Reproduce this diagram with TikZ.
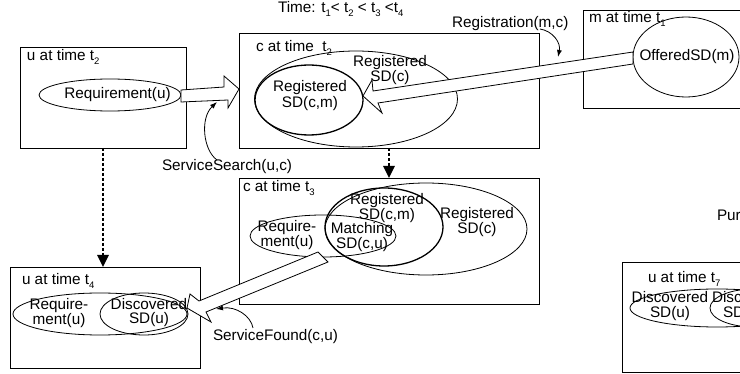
\documentclass[tikz,border=0pt]{standalone}
\usepackage{fontspec}
\setmainfont{Liberation Sans}
\usetikzlibrary{shapes.geometric,arrows.meta}
\newcommand{\tsub}[1]{\raisebox{-0.45ex}{\fontsize{9.5}{9.5}\selectfont #1}}
\begin{document}
\begin{tikzpicture}[x=1pt,y=-1pt,
  every node/.style={font=\fontsize{15.3}{16}\selectfont, inner sep=0pt, outer sep=0pt},
  frame/.style={draw, line width=0.8pt, rectangle},
  ell/.style={draw, line width=0.8pt, ellipse},
  thickell/.style={draw, line width=1.3pt, ellipse},
  lbl/.style={anchor=base west},
  twoline/.style={align=center, font=\fontsize{15.3}{#1}\selectfont},
  blockarrow/.style={draw, fill=white, line width=0.8pt, line join=miter},
  thinarrow/.style={line width=0.8pt, -{Latex[length=7pt,width=5pt]}},
  dotarrow/.style={line width=2.6pt, dash pattern=on 3pt off 2pt, -{Triangle[length=12pt,width=11pt]}},
]
\useasboundingbox (0,0) rectangle (740,374);
\clip (0,0) rectangle (740,374);

% time label
\node[lbl] (time) at (278,13) {Time: t\tsub{1}< t\tsub{2} < t\tsub{3} <t\tsub{4}};

% ---------- u at time t2
\node[frame, minimum width=166pt, minimum height=101pt] (u2) at (103,97.5) {};
\node[lbl] (u2t) at (27,61) {u at time t\tsub{2}};
\node[ell, minimum width=142pt, minimum height=32pt] (req2) at (110,95) {};
\node (req2txt) at (117.5,95) {Requirement(u)};

% ---------- c at time t2
\node[frame, minimum width=300pt, minimum height=115pt] (c2) at (389,90.5) {};
\node[lbl] (c2t) at (256,52) {c at time \ t\tsub{2}};
\node[ell, minimum width=203pt, minimum height=96pt] (c2all) at (356,99) {};
\node[thickell, minimum width=108pt, minimum height=70pt] (c2cm) at (309,100) {};
\node[twoline=16] (c2cmtxt) at (310,96) {Registered\\SD(c,m)};
\node[twoline=14] (c2alltxt) at (390,70) {Registered\\SD(c)};

% ---------- m at time t1
\node[frame, minimum width=197pt, minimum height=98pt] (m1) at (681.5,59) {};
\node[lbl] (m1t) at (589,23) {m at time t\tsub{1}};
\node[ell, minimum width=106pt, minimum height=80pt] (off) at (686,57) {};
\node (offtxt) at (687,57) {OfferedSD(m)};

% ---------- c at time t3
\node[frame, minimum width=300pt, minimum height=126pt] (c3) at (389,241) {};
\node[lbl] (c3t) at (243,192) {c at time t\tsub{3}};
\node[ell, minimum width=202pt, minimum height=92pt] (c3all) at (426,229) {};
\node[thickell, minimum width=118pt, minimum height=78pt] (c3cm) at (384,227) {};
\node[ell, minimum width=146pt, minimum height=42pt] (c3req) at (323,236) {};
\node[twoline=12.5] (c3cmtxt) at (387,208) {Registered\\SD(c,m)};
\node[twoline=13] (c3alltxt) at (477,222) {Registered\\SD(c)};
\node[twoline=13.5] (c3reqtxt) at (287,235) {Require-\\ment(u)};
\node[twoline=12.5] (c3mtxt) at (362,237) {Matching\\SD(c,u)};

% ---------- u at time t4
\node[frame, minimum width=190pt, minimum height=101pt] (u4) at (105,317.5) {};
\node[lbl] (u4t) at (22,285) {u at time t\tsub{4}};
\node[ell, minimum width=174pt, minimum height=42pt] (u4req) at (100,314) {};
\node[ell, minimum width=88pt, minimum height=42pt] (u4disc) at (144,314) {};
\node[twoline=14] (u4reqtxt) at (59,313) {Require-\\ment(u)};
\node[twoline=14] (u4disctxt) at (149,313) {Discovered\\SD(u)};

% ---------- u at time t7 (cut at the right edge)
\node[frame, minimum width=178pt, minimum height=110pt] (u7) at (711,317) {};
\node[lbl] (u7t) at (648,283) {u at time t\tsub{7}};
\node[ell, minimum width=174pt, minimum height=38pt] (u7a) at (717,308) {};
\node[ell, minimum width=88pt, minimum height=38pt] (u7b) at (754,308) {};
\node[twoline=15] (u7atxt) at (670,306) {Discovered\\SD(u)};
\node[lbl] (u7btxt) at (712,303) {Disc};
\node[lbl] (u7btxt2) at (723,318) {SD};
\node[lbl] (pur) at (717,221) {Pur};

% ---------- dotted arrows
\draw[dotarrow] (u2.south) -- (u2.south |- u4.north);
\draw[dotarrow] (c2.south) -- (c3.north);

% ---------- block arrows
\draw[blockarrow] (181,90) -- (224,87) -- (224,76) -- (239,89) -- (228,108) -- (228,100) -- (181,102) -- cycle;
\draw[blockarrow] (633,52) -- (373,91) -- (372,80) -- (363,96) -- (382,113) -- (378,103) -- (633,64) -- cycle;
\draw[blockarrow] (318,252) -- (199,301) -- (190,294) -- (187,308) -- (211,322) -- (206,312) -- (328,262) -- cycle;

% ---------- labels with curved arrows
\node[lbl] (regl) at (452,28) {Registration(m,c)};
\coordinate (regtip) at (558,57);
\draw[thinarrow] (540,29) .. controls (553,31) and (561,43) .. (regtip);

\node[lbl] (ssl) at (162,171) {ServiceSearch(u,c)};
\coordinate (sstip) at (217,102);
\draw[thinarrow] (217,160) .. controls (203,150) and (200,118) .. (sstip);

\node[lbl] (sfl) at (213,341) {ServiceFound(c,u)};
\coordinate (sftip) at (216,309);
\draw[thinarrow] (253,328) .. controls (251,316) and (236,306) .. (sftip);
\end{tikzpicture}
\end{document}
